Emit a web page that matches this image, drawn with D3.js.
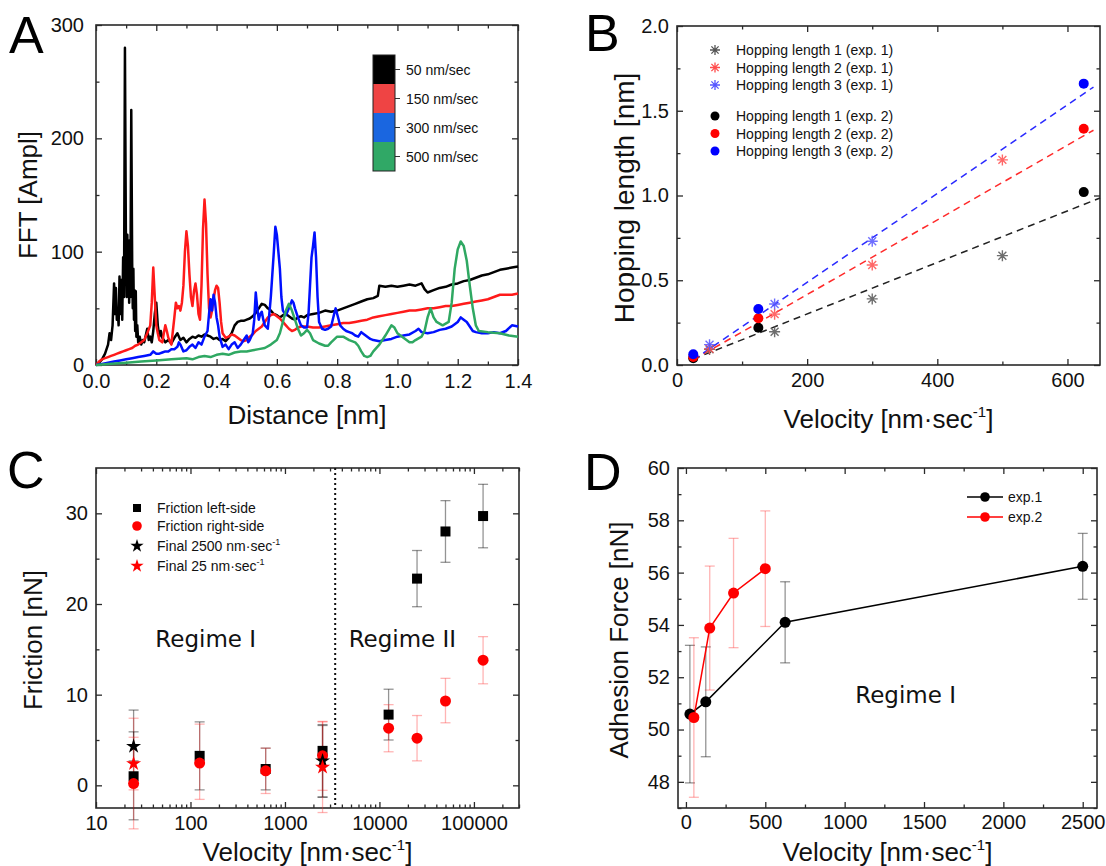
<!DOCTYPE html>
<html><head><meta charset="utf-8">
<script src="https://cdn.jsdelivr.net/npm/d3@7"></script>
<style>body{margin:0;background:#fff}</style>
</head><body><script>
// ---------------- DATA ----------------
// Panel A: FFT spectra [distance nm, amplitude]
const fft50 = [[0,0],[0.01,2],[0.02,5],[0.03,10],[0.04,18],[0.045,28],[0.05,22],[0.055,35],[0.06,72],[0.063,45],[0.066,68],[0.069,40],[0.072,50],[0.075,35],[0.078,78],[0.081,45],[0.084,75],[0.087,40],[0.09,95],[0.093,60],[0.096,280],[0.099,120],[0.102,60],[0.104,115],[0.106,70],[0.108,100],[0.11,55],[0.112,110],[0.114,60],[0.117,225],[0.12,90],[0.122,50],[0.124,85],[0.126,40],[0.128,66],[0.13,30],[0.132,65],[0.134,25],[0.137,35],[0.14,20],[0.145,25],[0.15,18],[0.155,22],[0.16,20],[0.165,26],[0.17,32],[0.175,22],[0.18,25],[0.185,20],[0.19,30],[0.195,45],[0.2,55],[0.205,35],[0.21,25],[0.215,30],[0.22,24],[0.23,20],[0.24,22],[0.25,19],[0.26,24],[0.27,28],[0.28,22],[0.29,24],[0.3,20],[0.31,23],[0.32,25],[0.33,24],[0.34,26],[0.35,25],[0.36,27],[0.37,26],[0.38,25],[0.39,23],[0.4,24],[0.41,22],[0.42,23],[0.43,21],[0.44,24],[0.45,28],[0.46,35],[0.47,38],[0.48,39],[0.49,39],[0.5,40],[0.51,41],[0.52,43],[0.53,46],[0.54,50],[0.55,54],[0.56,53],[0.57,50],[0.58,48],[0.59,45],[0.6,44],[0.61,42],[0.62,44],[0.63,45],[0.64,43],[0.65,41],[0.66,40],[0.67,42],[0.68,43],[0.69,42],[0.7,44],[0.72,45],[0.74,46],[0.76,48],[0.78,47],[0.8,48],[0.82,50],[0.84,52],[0.86,54],[0.88,56],[0.9,58],[0.92,59],[0.935,61],[0.94,70],[0.96,69],[0.98,70],[1.0,69],[1.02,70],[1.04,71],[1.06,70],[1.08,72],[1.09,67],[1.1,64],[1.12,66],[1.14,68],[1.16,69],[1.18,71],[1.2,72],[1.22,74],[1.24,75],[1.26,77],[1.28,79],[1.3,80],[1.32,82],[1.34,84],[1.36,85],[1.38,86],[1.4,87]];
const fft150 = [[0,0],[0.01,3],[0.02,5],[0.03,6],[0.04,7],[0.05,8],[0.06,9],[0.07,10],[0.08,11],[0.09,12],[0.1,13],[0.11,14],[0.12,15],[0.13,17],[0.14,18],[0.15,20],[0.16,22],[0.17,28],[0.18,35],[0.185,55],[0.19,86],[0.195,60],[0.2,35],[0.205,28],[0.21,22],[0.22,20],[0.225,28],[0.23,35],[0.235,30],[0.24,24],[0.25,18],[0.255,30],[0.26,42],[0.265,55],[0.27,50],[0.275,52],[0.28,48],[0.285,55],[0.29,70],[0.295,100],[0.3,118],[0.305,105],[0.31,80],[0.315,60],[0.32,52],[0.325,65],[0.33,72],[0.335,62],[0.34,45],[0.345,40],[0.35,70],[0.355,120],[0.36,146],[0.365,125],[0.37,80],[0.375,50],[0.38,42],[0.385,48],[0.39,58],[0.395,66],[0.4,70],[0.405,68],[0.41,55],[0.415,38],[0.42,28],[0.43,24],[0.44,25],[0.45,27],[0.46,26],[0.47,24],[0.48,22],[0.49,21],[0.5,22],[0.51,25],[0.52,27],[0.53,30],[0.54,32],[0.55,34],[0.56,38],[0.57,42],[0.58,44],[0.59,45],[0.6,43],[0.61,41],[0.62,38],[0.63,35],[0.64,32],[0.65,30],[0.66,31],[0.67,33],[0.68,34],[0.7,34],[0.72,33],[0.74,33],[0.76,34],[0.78,35],[0.8,36],[0.82,37],[0.84,37],[0.86,38],[0.88,39],[0.9,40],[0.92,42],[0.94,43],[0.96,44],[0.98,45],[1.0,46],[1.02,47],[1.04,48],[1.06,48],[1.08,49],[1.1,50],[1.12,50],[1.14,51],[1.16,52],[1.18,52],[1.2,53],[1.22,54],[1.24,55],[1.26,56],[1.28,57],[1.3,58],[1.32,60],[1.34,62],[1.36,62],[1.38,62],[1.4,63]];
const fft300 = [[0,0],[0.02,1],[0.04,2],[0.06,3],[0.08,4],[0.1,5],[0.12,6],[0.14,7],[0.16,8],[0.18,9],[0.19,12],[0.2,10],[0.21,10],[0.22,11],[0.23,12],[0.24,12],[0.25,14],[0.26,14],[0.27,16],[0.275,20],[0.28,18],[0.29,12],[0.3,13],[0.31,16],[0.32,18],[0.33,15],[0.34,20],[0.35,18],[0.36,25],[0.37,30],[0.375,45],[0.38,58],[0.385,48],[0.39,62],[0.395,55],[0.4,42],[0.405,35],[0.41,25],[0.42,16],[0.43,18],[0.44,14],[0.45,18],[0.46,20],[0.47,15],[0.48,18],[0.49,22],[0.5,26],[0.505,20],[0.51,22],[0.52,28],[0.525,40],[0.53,64],[0.535,50],[0.54,40],[0.545,45],[0.55,47],[0.555,40],[0.56,35],[0.57,32],[0.575,45],[0.58,60],[0.585,80],[0.59,100],[0.595,122],[0.6,115],[0.605,100],[0.61,85],[0.615,60],[0.62,48],[0.63,44],[0.64,50],[0.65,57],[0.655,55],[0.66,50],[0.67,42],[0.68,35],[0.69,33],[0.7,33],[0.705,45],[0.71,70],[0.715,95],[0.72,105],[0.725,117],[0.73,95],[0.735,60],[0.74,38],[0.75,32],[0.76,31],[0.77,32],[0.78,34],[0.79,45],[0.795,50],[0.8,45],[0.81,35],[0.82,32],[0.83,30],[0.84,29],[0.85,28],[0.86,26],[0.87,25],[0.88,29],[0.89,27],[0.9,25],[0.91,23],[0.92,22],[0.94,21],[0.96,22],[0.98,23],[1.0,25],[1.02,26],[1.04,27],[1.06,30],[1.07,32],[1.08,29],[1.1,28],[1.12,29],[1.14,31],[1.16,32],[1.18,34],[1.2,38],[1.21,42],[1.22,40],[1.23,38],[1.24,34],[1.25,30],[1.26,29],[1.28,28],[1.3,28],[1.32,29],[1.34,28],[1.36,30],[1.38,35],[1.4,34]];
const fft500 = [[0,0],[0.05,1],[0.1,2],[0.15,3],[0.2,4],[0.25,5],[0.3,6],[0.32,5],[0.34,7],[0.36,8],[0.38,7],[0.4,9],[0.42,10],[0.44,9],[0.46,11],[0.48,12],[0.5,12],[0.52,13],[0.54,14],[0.56,15],[0.58,18],[0.59,20],[0.6,22],[0.61,28],[0.62,38],[0.63,48],[0.64,54],[0.65,48],[0.66,40],[0.67,32],[0.68,26],[0.69,28],[0.7,31],[0.71,28],[0.72,22],[0.74,19],[0.76,17],[0.77,17],[0.78,20],[0.8,25],[0.82,25],[0.84,22],[0.86,20],[0.87,17],[0.88,12],[0.89,8],[0.9,7],[0.91,8],[0.92,12],[0.94,18],[0.96,26],[0.98,35],[0.99,33],[1.0,28],[1.02,24],[1.04,20],[1.05,20],[1.06,22],[1.08,25],[1.09,30],[1.1,42],[1.11,50],[1.12,42],[1.13,38],[1.15,35],[1.17,38],[1.18,55],[1.19,85],[1.2,102],[1.21,109],[1.22,105],[1.23,92],[1.24,70],[1.25,50],[1.26,35],[1.27,30],[1.3,29],[1.34,28],[1.37,26],[1.4,25]];
const fftLabels = ["50 nm/sec", "150 nm/sec", "300 nm/sec", "500 nm/sec"];
const aXTicks = [0, 0.2, 0.4, 0.6, 0.8, 1.0, 1.2, 1.4];
const aYTicks = [0, 100, 200, 300];

// Panel B: hopping length vs velocity
const bVelExp1 = [50, 150, 300, 500];
const bVelExp1b = [50, 150, 300];
const hl1Exp1 = [0.092, 0.196, 0.39, 0.645];
const hl2Exp1 = [0.096, 0.30, 0.59, 1.21];
const hl3Exp1 = [0.12, 0.36, 0.73];
const bVelExp2 = [25, 125, 625];
const hl1Exp2 = [0.04, 0.22, 1.02];
const hl2Exp2 = [0.047, 0.276, 1.394];
const hl3Exp2 = [0.063, 0.33, 1.66];
const fit1Vel = [25, 650], fit1Val = [0.035, 0.985];
const fit2Vel = [25, 640], fit2Val = [0.03, 1.385];
const fit3Vel = [25, 640], fit3Val = [0.03, 1.64];
const bLabels = ["Hopping length 1 (exp. 1)", "Hopping length 2 (exp. 1)", "Hopping length 3 (exp. 1)",
                 "Hopping length 1 (exp. 2)", "Hopping length 2 (exp. 2)", "Hopping length 3 (exp. 2)"];
const bXTicks = [0, 200, 400, 600];
const bYTicks = [0, 0.5, 1.0, 1.5, 2.0];

// Panel C: friction vs velocity (log)
const cVel = [25, 125, 625, 2500, 12500, 25000, 50000, 125000];
const cLeft = [1.0, 3.25, 1.8, 3.8, 7.8, 22.8, 28.0, 29.7];
const cLeftErrUp = [7.3, 3.75, 2.3, 2.8, 2.8, 3.1, 3.4, 3.5];
const cLeftErrDown = [4.8, 3.75, 2.3, 5.1, 2.8, 3.1, 3.4, 3.5];
const cRight = [0.2, 2.45, 1.6, 3.25, 6.3, 5.2, 9.3, 13.8];
const cRightErrUp = [7.2, 4.3, 2.5, 3.8, 2.6, 2.5, 2.5, 2.6];
const cRightErrDown = [5.0, 4.0, 2.5, 3.8, 2.6, 2.5, 2.4, 2.6];
const cFinal2500Vel = [25, 2500], cFinal2500 = [4.3, 2.7], cFinal2500Err = [1.6, 4.0];
const cFinal25Vel = [25, 2500], cFinal25 = [2.4, 2.0], cFinal25Err = [2.9, 5.0];
const cRegimeBoundary = 3400;
const cXTicks = [10, 100, 1000, 10000, 100000];
const cYTicks = [0, 10, 20, 30];

// Panel D: adhesion force vs velocity
const dVel1 = [25, 125, 625, 2500];
const dForce1 = [50.59, 51.06, 54.1, 56.24];
const dErr1 = [2.63, 2.1, 1.55, 1.26];
const dVel2 = [50, 150, 300, 500];
const dForce2 = [50.46, 53.88, 55.22, 56.15];
const dErr2 = [3.05, 2.37, 2.09, 2.21];
const dXTicks = [0, 500, 1000, 1500, 2000, 2500];
const dYTicks = [48, 50, 52, 54, 56, 58, 60];

// ---------------- DRAWING ----------------
const FONT = "'Liberation Sans', Arial, Helvetica, sans-serif";
const AXC = "#2a2a2a";
const svg = d3.select("body").append("svg").attr("width", 1106).attr("height", 866).style("display", "block");
svg.append("rect").attr("width", 1106).attr("height", 866).attr("fill", "#fff");

function drawFrame(x, y, o) {
  const g = svg.append("g");
  const [xl, xr] = x.range(), [yb, yt] = y.range();
  const mk = (axis, tr, vals, size, fmt, pad) => {
    const a = g.append("g").attr("transform", tr)
      .call(axis.tickValues(vals).tickSize(size).tickPadding(pad || 8).tickFormat(fmt || ""));
    a.select(".domain").remove();
    a.attr("font-size", 20).attr("font-family", FONT).attr("color", AXC);
    a.selectAll("line").attr("stroke-width", 1.3);
    a.selectAll("text").attr("fill", "#111");
    return a;
  };
  mk(d3.axisBottom(x), `translate(0,${yb})`, o.xMajor, -6, o.xFmt, o.xPad);
  mk(d3.axisBottom(x), `translate(0,${yb})`, o.xMinor, -3.5);
  mk(d3.axisTop(x), `translate(0,${yt})`, o.xMajor, -6);
  mk(d3.axisTop(x), `translate(0,${yt})`, o.xMinor, -3.5);
  mk(d3.axisLeft(y), `translate(${xl},0)`, o.yMajor, -6, o.yFmt, o.yPad);
  mk(d3.axisLeft(y), `translate(${xl},0)`, o.yMinor, -3.5);
  mk(d3.axisRight(y), `translate(${xr},0)`, o.yMajor, -6);
  mk(d3.axisRight(y), `translate(${xr},0)`, o.yMinor, -3.5);
  g.append("rect").attr("x", xl).attr("y", yt).attr("width", xr - xl).attr("height", yb - yt)
    .attr("fill", "none").attr("stroke", AXC).attr("stroke-width", 1.6);
  return g;
}
function yTitle(txt, x, y, size) {
  svg.append("text").attr("transform", `translate(${x},${y}) rotate(-90)`).attr("text-anchor", "middle")
    .attr("font-family", FONT).attr("font-size", size).attr("fill", "#111").text(txt);
}
function velTitle(x, y) {
  const t = svg.append("text").attr("x", x).attr("y", y).attr("text-anchor", "middle")
    .attr("font-family", FONT).attr("font-size", 26).attr("fill", "#111");
  t.append("tspan").text("Velocity [nm·sec");
  t.append("tspan").attr("dy", -11).attr("font-size", 15).text("-1");
  t.append("tspan").attr("dy", 11).text("]");
}
function panelLetter(txt, x, y) {
  svg.append("text").attr("x", x).attr("y", y).attr("font-family", FONT)
    .attr("font-size", 52).attr("fill", "#000").text(txt);
}
const fmt1 = d3.format(".1f");

// ===== Panel A =====
const xA = d3.scaleLinear([0, 1.4], [96, 518]);
const yA = d3.scaleLinear([0, 300], [365, 25]);
drawFrame(xA, yA, { xMajor: aXTicks, xMinor: [0.1, 0.3, 0.5, 0.7, 0.9, 1.1, 1.3], xFmt: fmt1, xPad: 9,
  yMajor: aYTicks, yMinor: [50, 150, 250], yFmt: d => d, yPad: 12 });
const aColors = ["#000000", "#ff1a1a", "#0010ff", "#2fa862"];
const aLine = d3.line().x(d => xA(d[0])).y(d => yA(d[1]));
[fft50, fft150, fft300, fft500].forEach((s, i) => {
  svg.append("path").datum(s).attr("d", aLine).attr("fill", "none").attr("stroke", aColors[i])
    .attr("stroke-width", 2.5).attr("stroke-linejoin", "round");
});
// legend colour bar
const legA = svg.append("g");
const segH = 29, barX = xA.range()[0] + 277, barY = yA.range()[1] + 30;
const barColors = ["#000000", "#ef4444", "#1a66e0", "#30a866"];
fftLabels.forEach((lab, i) => {
  legA.append("rect").attr("x", barX).attr("y", barY + i * segH).attr("width", 22).attr("height", segH).attr("fill", barColors[i]);
  legA.append("line").attr("x1", barX + 22).attr("x2", barX + 27).attr("y1", barY + i * segH + segH / 2)
    .attr("y2", barY + i * segH + segH / 2).attr("stroke", "#333");
  legA.append("text").attr("x", barX + 33).attr("y", barY + i * segH + segH / 2 + 5).attr("font-family", FONT)
    .attr("font-size", 14).attr("fill", "#111").text(lab);
});
legA.append("rect").attr("x", barX).attr("y", barY).attr("width", 22).attr("height", segH * 4)
  .attr("fill", "none").attr("stroke", "#222").attr("stroke-width", 1);
yTitle("FFT [Ampl]", 37, 195, 26);
svg.append("text").attr("x", (96 + 518) / 2).attr("y", 424).attr("text-anchor", "middle")
  .attr("font-family", FONT).attr("font-size", 26).attr("fill", "#111").text("Distance [nm]");
panelLetter("A", 9, 53);

// ===== Panel B =====
const xB = d3.scaleLinear([0, 650], [677, 1100]);
const yB = d3.scaleLinear([0, 2], [365, 26]);
drawFrame(xB, yB, { xMajor: bXTicks, xMinor: [100, 300, 500], xFmt: d => d,
  yMajor: bYTicks, yMinor: [0.25, 0.75, 1.25, 1.75], yFmt: fmt1 });
const bLine = d3.line().x(d => xB(d[0])).y(d => yB(d[1]));
const fitCols = ["#222", "#ff2a2a", "#2a2aff"];
[[fit1Vel, fit1Val], [fit2Vel, fit2Val], [fit3Vel, fit3Val]].forEach(([vx, vy], i) => {
  svg.append("path").datum(d3.zip(vx, vy)).attr("d", bLine).attr("fill", "none").attr("stroke", fitCols[i])
    .attr("stroke-width", 1.5).attr("stroke-dasharray", "7,5");
});
const ast = r => `M${-r},0H${r}M0,${-r}V${r}M${-r * .72},${-r * .72}L${r * .72},${r * .72}M${-r * .72},${r * .72}L${r * .72},${-r * .72}`;
const astCols = ["#555", "#ff4d4d", "#5555ff"];
[[bVelExp1, hl1Exp1], [bVelExp1, hl2Exp1], [bVelExp1b, hl3Exp1]].forEach(([vx, vy], i) => {
  d3.zip(vx, vy).forEach(d => {
    svg.append("path").attr("d", ast(5.5)).attr("transform", `translate(${xB(d[0])},${yB(d[1])})`)
      .attr("stroke", astCols[i]).attr("stroke-width", 1.4).attr("fill", "none").attr("opacity", 0.85);
  });
});
const dotCols = ["#000", "#ff0000", "#0000ff"];
[[bVelExp2, hl1Exp2], [bVelExp2, hl2Exp2], [bVelExp2, hl3Exp2]].forEach(([vx, vy], i) => {
  svg.append("g").selectAll("circle").data(d3.zip(vx, vy)).join("circle")
    .attr("cx", d => xB(d[0])).attr("cy", d => yB(d[1])).attr("r", 5).attr("fill", dotCols[i]);
});
const legBY = [24, 41.5, 59, 90, 107.5, 125];
bLabels.forEach((lab, i) => {
  const yy = yB.range()[1] + legBY[i], xx = xB.range()[0] + 38;
  if (i < 3) svg.append("path").attr("d", ast(5)).attr("transform", `translate(${xx},${yy})`)
    .attr("stroke", astCols[i]).attr("stroke-width", 1.3).attr("fill", "none");
  else svg.append("circle").attr("cx", xx).attr("cy", yy).attr("r", 4.5).attr("fill", dotCols[i - 3]);
  svg.append("text").attr("x", xx + 21).attr("y", yy + 5).attr("font-family", FONT).attr("font-size", 14)
    .attr("fill", "#111").text(lab);
});
yTitle("Hopping length [nm]", 634, 198, 28);
velTitle((677 + 1100) / 2, 428);
panelLetter("B", 585, 51);

// ===== Panel C =====
const xC = d3.scaleLog([10, 300000], [96, 519]);
const yC = d3.scaleLinear([-2.5, 35], [808, 468]);
const cMinor = [];
[10, 100, 1000, 10000, 100000].forEach(dec => [2, 3, 4, 5, 6, 7, 8, 9].forEach(m => { if (dec * m <= 300000) cMinor.push(dec * m); }));
drawFrame(xC, yC, { xMajor: cXTicks, xMinor: cMinor, xFmt: d => d,
  yMajor: cYTicks, yMinor: [5, 15, 25], yFmt: d => d });
svg.append("line").attr("x1", xC(cRegimeBoundary)).attr("x2", xC(cRegimeBoundary))
  .attr("y1", yC.range()[1]).attr("y2", yC.range()[0]).attr("stroke", "#111").attr("stroke-width", 2)
  .attr("stroke-dasharray", "2,3");
function errBars(xs, ys, up, down, sx, sy, col) {
  xs.forEach((v, i) => {
    const x = sx(v), y1 = sy(ys[i] + up[i]), y2 = sy(ys[i] - down[i]);
    const g = svg.append("g").attr("stroke", col).attr("stroke-width", 1.3);
    g.append("line").attr("x1", x).attr("x2", x).attr("y1", y1).attr("y2", y2);
    g.append("line").attr("x1", x - 5).attr("x2", x + 5).attr("y1", y1).attr("y2", y1);
    g.append("line").attr("x1", x - 5).attr("x2", x + 5).attr("y1", y2).attr("y2", y2);
  });
}
const greyBar = "rgba(0,0,0,0.42)", redBar = "rgba(255,40,40,0.35)";
errBars(cVel, cLeft, cLeftErrUp, cLeftErrDown, xC, yC, greyBar);
errBars(cVel, cRight, cRightErrUp, cRightErrDown, xC, yC, redBar);
errBars(cFinal2500Vel, cFinal2500, cFinal2500Err, cFinal2500Err, xC, yC, greyBar);
errBars(cFinal25Vel, cFinal25, cFinal25Err, cFinal25Err, xC, yC, redBar);
const sq = d3.symbol(d3.symbolSquare, 100), star = d3.symbol(d3.symbolStar, 70);
cVel.forEach((v, i) => svg.append("path").attr("d", sq).attr("transform", `translate(${xC(v)},${yC(cLeft[i])})`).attr("fill", "#000"));
cVel.forEach((v, i) => svg.append("circle").attr("cx", xC(v)).attr("cy", yC(cRight[i])).attr("r", 5.5).attr("fill", "#ff0000"));
cFinal2500Vel.forEach((v, i) => svg.append("path").attr("d", star).attr("transform", `translate(${xC(v)},${yC(cFinal2500[i])})`).attr("fill", "#000"));
cFinal25Vel.forEach((v, i) => svg.append("path").attr("d", star).attr("transform", `translate(${xC(v)},${yC(cFinal25[i])})`).attr("fill", "#ff0000"));
// legend C
const lcx = xC.range()[0] + 41, lcy = yC.range()[1];
const cLeg = [
  { y: 40, sym: "sq", col: "#000", txt: "Friction left-side" },
  { y: 58, sym: "ci", col: "#ff0000", txt: "Friction right-side" },
  { y: 78, sym: "st", col: "#000", txt: "Final 2500 nm·sec", sup: true },
  { y: 98, sym: "st", col: "#ff0000", txt: "Final 25 nm·sec", sup: true }];
cLeg.forEach(l => {
  const yy = lcy + l.y;
  if (l.sym === "sq") svg.append("path").attr("d", d3.symbol(d3.symbolSquare, 64)).attr("transform", `translate(${lcx},${yy})`).attr("fill", l.col);
  else if (l.sym === "ci") svg.append("circle").attr("cx", lcx).attr("cy", yy).attr("r", 4.8).attr("fill", l.col);
  else svg.append("path").attr("d", d3.symbol(d3.symbolStar, 55)).attr("transform", `translate(${lcx},${yy})`).attr("fill", l.col);
  const t = svg.append("text").attr("x", lcx + 20).attr("y", yy + 5).attr("font-family", FONT).attr("font-size", 14).attr("fill", "#111");
  t.append("tspan").text(l.txt);
  if (l.sup) { t.append("tspan").attr("dy", -6).attr("font-size", 9).text("-1"); }
});
const regFont = "'DejaVu Sans', Verdana, sans-serif";
svg.append("text").attr("x", xC(145)).attr("y", yC(15.3)).attr("text-anchor", "middle").attr("font-family", regFont)
  .attr("font-size", 23).attr("fill", "#111").text("Regime I");
svg.append("text").attr("x", xC(17500)).attr("y", yC(15.3)).attr("text-anchor", "middle").attr("font-family", regFont)
  .attr("font-size", 23).attr("fill", "#111").text("Regime II");
yTitle("Friction [nN]", 42, 640, 26);
velTitle((96 + 519) / 2, 861);
panelLetter("C", 7, 488);

// ===== Panel D =====
const xD = d3.scaleLinear([-50, 2590], [678, 1097]);
const yD = d3.scaleLinear([47, 60], [808, 468]);
drawFrame(xD, yD, { xMajor: dXTicks, xMinor: [250, 750, 1250, 1750, 2250], xFmt: d => d, xPad: 7,
  yMajor: dYTicks, yMinor: [47, 49, 51, 53, 55, 57, 59], yFmt: d => d });
errBars(dVel1, dForce1, dErr1, dErr1, xD, yD, greyBar);
errBars(dVel2, dForce2, dErr2, dErr2, xD, yD, redBar);
const dLine = d3.line().x(d => xD(d[0])).y(d => yD(d[1]));
svg.append("path").datum(d3.zip(dVel1, dForce1)).attr("d", dLine).attr("fill", "none").attr("stroke", "#000").attr("stroke-width", 1.5);
svg.append("path").datum(d3.zip(dVel2, dForce2)).attr("d", dLine).attr("fill", "none").attr("stroke", "#ff0000").attr("stroke-width", 1.5);
svg.append("g").selectAll("circle").data(d3.zip(dVel1, dForce1)).join("circle")
  .attr("cx", d => xD(d[0])).attr("cy", d => yD(d[1])).attr("r", 5.5).attr("fill", "#000");
svg.append("g").selectAll("circle").data(d3.zip(dVel2, dForce2)).join("circle")
  .attr("cx", d => xD(d[0])).attr("cy", d => yD(d[1])).attr("r", 5.5).attr("fill", "#ff0000");
[["exp.1", "#000"], ["exp.2", "#ff0000"]].forEach(([lab, col], i) => {
  const yy = yD.range()[1] + 29 + i * 20, x0 = xD.range()[1] - 130;
  svg.append("line").attr("x1", x0).attr("x2", x0 + 36).attr("y1", yy).attr("y2", yy).attr("stroke", col).attr("stroke-width", 1.5);
  svg.append("circle").attr("cx", x0 + 18).attr("cy", yy).attr("r", 4.8).attr("fill", col);
  svg.append("text").attr("x", x0 + 41).attr("y", yy + 5).attr("font-family", FONT).attr("font-size", 14).attr("fill", "#111").text(lab);
});
svg.append("text").attr("x", xD(1384)).attr("y", yD(51.0)).attr("text-anchor", "middle").attr("font-family", regFont)
  .attr("font-size", 23).attr("fill", "#111").text("Regime I");
yTitle("Adhesion Force [nN]", 628, 640, 26);
velTitle((678 + 1097) / 2, 861);
panelLetter("D", 584, 490);
</script></body></html>
